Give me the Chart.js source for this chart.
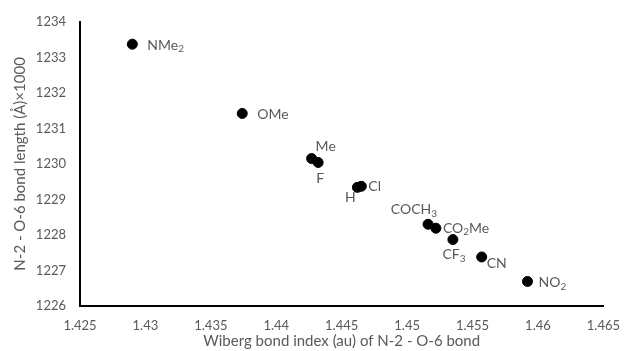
<!DOCTYPE html>
<html>
<head>
<meta charset="utf-8">
<script src="https://cdn.jsdelivr.net/npm/chart.js@4"></script>
<style>
    html, body { margin: 0; padding: 0; background: #ffffff; }
    #wrap { width: 632px; height: 351px; }
</style>
</head>
<body>
<div id="wrap"><canvas id="chart"></canvas></div>
<script>
// Substituents, Wiberg bond index and N-2 - O-6 bond length (x1000)
const substituents = ['NMe_2', 'OMe', 'Me', 'F', 'H', 'Cl', 'COCH_3', 'CO_2Me', 'CF_3', 'CN', 'NO_2'];
const wibergIndex = [1.4290, 1.4374, 1.4427, 1.4432, 1.4462, 1.4465, 1.4516, 1.4522, 1.4535, 1.4557, 1.4592];
const bondLength = [1233.37, 1231.42, 1230.15, 1230.04, 1229.34, 1229.37, 1228.30, 1228.19, 1227.87, 1227.38, 1226.69];

// Axis ranges
const xMin = 1.425, xMax = 1.465, xStep = 0.005;
const yMin = 1226, yMax = 1234, yStep = 1;

// Label placement relative to each point: [dx, dy, align]
const labelOffsets = [
    [15, 1, 'left'], [15, 1, 'left'], [4, -12, 'left'], [2, 16, 'center'],
    [-7, 10, 'center'], [7, 0, 'left'], [9, -15, 'right'], [7, 0, 'left'],
    [1, 15, 'center'], [5, 7, 'left'], [11, 1, 'left']
];

const textColor = '#595959';
const fontFamily = 'Lato, "Open Sans", sans-serif';

// Split "CO_2Me" into pieces, the digit after "_" is a subscript
function parseLabel(label) {
    const parts = [];
    let i = 0;
    while (i < label.length) {
        if (label[i] === '_') {
            parts.push({ text: label[i + 1], sub: true });
            i += 2;
        } else {
            let j = i;
            while (j < label.length && label[j] !== '_') j++;
            parts.push({ text: label.slice(i, j), sub: false });
            i = j;
        }
    }
    return parts;
}

const pointLabels = {
    id: 'pointLabels',
    afterDatasetsDraw(chart) {
        const ctx = chart.ctx;
        const meta = chart.getDatasetMeta(0);
        const mainFont = '14px ' + fontFamily;
        const subFont = '10px ' + fontFamily;
        ctx.save();
        ctx.fillStyle = textColor;
        ctx.textBaseline = 'middle';
        ctx.textAlign = 'left';
        meta.data.forEach((pt, i) => {
            const parts = parseLabel(substituents[i]);
            const [dx, dy, align] = labelOffsets[i];
            let width = 0;
            parts.forEach(p => {
                ctx.font = p.sub ? subFont : mainFont;
                p.w = ctx.measureText(p.text).width;
                width += p.w;
            });
            let x = pt.x + dx;
            if (align === 'center') x -= width / 2;
            if (align === 'right') x -= width;
            const y = pt.y + dy;
            parts.forEach(p => {
                ctx.font = p.sub ? subFont : mainFont;
                ctx.fillText(p.text, x, p.sub ? y + 4 : y);
                x += p.w;
            });
        });
        ctx.restore();
    }
};

function initChart() {
    const ctx = document.getElementById('chart').getContext('2d');
    new Chart(ctx, {
        type: 'scatter',
        data: {
            datasets: [{
                data: wibergIndex.map((x, i) => ({ x: x, y: bondLength[i] })),
                backgroundColor: '#000000',
                borderColor: '#000000',
                pointRadius: 5,
                pointHoverRadius: 5
            }]
        },
        options: {
            responsive: true,
            maintainAspectRatio: false,
            animation: false,
            layout: { padding: { top: 18, right: 19, bottom: 1, left: 11 } },
            plugins: {
                legend: { display: false },
                tooltip: { enabled: false }
            },
            scales: {
                x: {
                    type: 'linear',
                    min: xMin,
                    max: xMax,
                    grid: { display: false, drawTicks: false },
                    border: { display: true, color: '#000000', width: 2 },
                    ticks: {
                        stepSize: xStep,
                        padding: 12,
                        color: textColor,
                        font: { family: fontFamily, size: 13 },
                        callback: v => String(parseFloat(v.toFixed(3)))
                    },
                    title: {
                        display: true,
                        text: 'Wiberg bond index (au) of N-2 - O-6 bond',
                        color: textColor,
                        font: { family: fontFamily, size: 15 },
                        padding: { top: 0, bottom: 0 }
                    },
                    afterFit: scale => { scale.height = 44; }
                },
                y: {
                    type: 'linear',
                    min: yMin,
                    max: yMax,
                    grid: { display: false, drawTicks: false },
                    border: { display: true, color: '#000000', width: 2 },
                    ticks: {
                        stepSize: yStep,
                        padding: 14,
                        color: textColor,
                        font: { family: fontFamily, size: 13 },
                        callback: v => String(v)
                    },
                    title: {
                        display: true,
                        text: 'N-2 - O-6 bond length (Å)×1000',
                        color: textColor,
                        font: { family: fontFamily, size: 15 },
                        padding: { top: 0, bottom: 4 }
                    },
                    afterFit: scale => { scale.width = 69; }
                }
            }
        },
        plugins: [pointLabels]
    });
}

document.addEventListener('DOMContentLoaded', initChart);
</script>
</body>
</html>
